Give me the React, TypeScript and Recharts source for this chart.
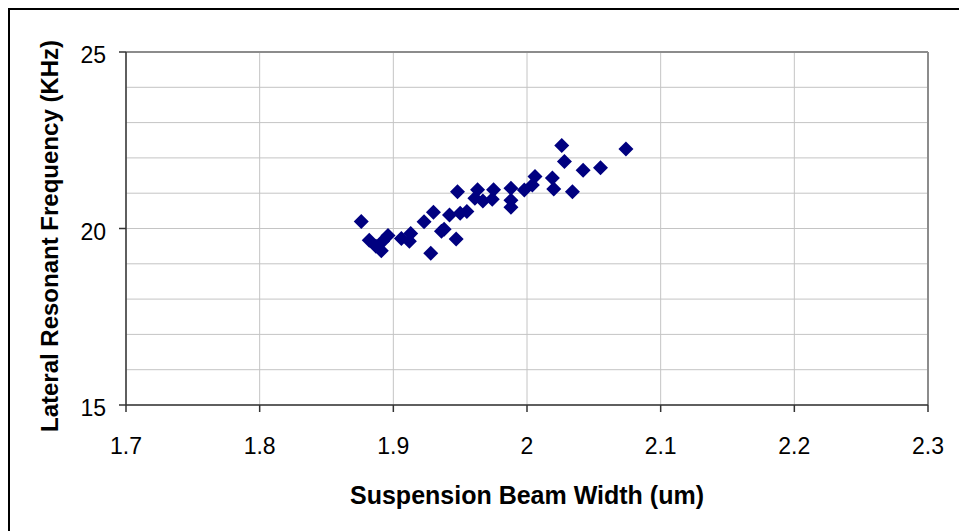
import { ScatterChart, Scatter, XAxis, YAxis, CartesianGrid, ReferenceLine } from 'recharts';

// beam width (um) and lateral resonant frequency (KHz)
const beamWidth = [
  1.876, 1.882, 1.887, 1.891, 1.892, 1.896, 1.906, 1.912, 1.913, 1.923,
  1.928, 1.930, 1.936, 1.938, 1.942, 1.947, 1.948, 1.950, 1.955, 1.961,
  1.963, 1.967, 1.974, 1.975, 1.988, 1.988, 1.988, 1.998, 2.004, 2.006,
  2.019, 2.020, 2.026, 2.028, 2.034, 2.042, 2.055, 2.074,
];
const resFreq = [
  20.2, 19.67, 19.5, 19.37, 19.64, 19.8, 19.72, 19.64, 19.86, 20.19,
  19.3, 20.46, 19.92, 19.98, 20.38, 19.7, 21.04, 20.43, 20.48, 20.86,
  21.1, 20.78, 20.83, 21.1, 21.14, 20.8, 20.6, 21.09, 21.23, 21.47,
  21.43, 21.12, 22.35, 21.9, 21.04, 21.65, 21.72, 22.25,
];

const xTicks = [1.7, 1.8, 1.9, 2.0, 2.1, 2.2, 2.3];
const yTicks = [15, 16, 17, 18, 19, 20, 21, 22, 23, 24, 25];
const yLabelled = [15, 20, 25];

const points = beamWidth.map((w, i) => ({ w, f: resFreq[i] }));

const FONT = '"Liberation Sans", Arial, sans-serif';

const Diamond = (props: any) => {
  const { cx, cy } = props;
  const r = 7.5;
  return <path d={`M${cx},${cy - r}L${cx + r},${cy}L${cx},${cy + r}L${cx - r},${cy}Z`} fill="#000080" />;
};

const YTick = (props: any) => {
  const { x, y, payload } = props;
  if (!yLabelled.includes(payload.value)) return null;
  return (
    <g>
      <line x1={x + 13} x2={x + 20} y1={y} y2={y} stroke="#333" strokeWidth={1.5} />
      <text x={x} y={y + 11} textAnchor="end" fontSize={23} fontFamily={FONT} fill="#000">
        {payload.value}
      </text>
    </g>
  );
};

export default function App() {
  return (
    <div style={{ width: 980, height: 560, borderTop: '2px solid #000', borderLeft: '2px solid #000', boxSizing: 'border-box', position: 'relative', background: '#fff' }}>
      <style>{'html,body{overflow:hidden}body{width:1000px}'}</style>
      <ScatterChart width={949} height={521} margin={{ top: 42, right: 31, left: 0, bottom: 0 }}>
        <CartesianGrid stroke="#c4c4c4" strokeWidth={1} />
        <XAxis
          type="number"
          dataKey="w"
          domain={[1.7, 2.3]}
          ticks={xTicks}
          interval={0}
          height={126}
          tickSize={7}
          tickMargin={26}
          stroke="#333"
          strokeWidth={1.5}
          tickFormatter={(v: number) => String(Math.round(v * 10) / 10)}
          tick={{ fontSize: 23, fontFamily: FONT, fill: '#000' }}
        />
        <YAxis
          type="number"
          dataKey="f"
          domain={[15, 25]}
          ticks={yTicks}
          interval={0}
          width={116}
          tickSize={7}
          tickMargin={13}
          tickLine={false}
          stroke="#333"
          strokeWidth={1.5}
          tick={<YTick />}
        />
        <ReferenceLine y={25} stroke="#8c8c8c" strokeWidth={2} />
        <ReferenceLine x={2.3} stroke="#8c8c8c" strokeWidth={2} />
        <Scatter data={points} shape={<Diamond />} isAnimationActive={false} />
      </ScatterChart>
      <svg width={949} height={521} style={{ position: 'absolute', left: 0, top: 0, pointerEvents: 'none' }}>
        <text x={517} y={494} textAnchor="middle" fontSize={25} fontWeight="bold" fontFamily={FONT} fill="#000">
          Suspension Beam Width (um)
        </text>
        <text transform="translate(47.5,226) rotate(-90)" textAnchor="middle" fontSize={24} fontWeight="bold" fontFamily={FONT} fill="#000">
          Lateral Resonant Frequency (KHz)
        </text>
      </svg>
    </div>
  );
}
